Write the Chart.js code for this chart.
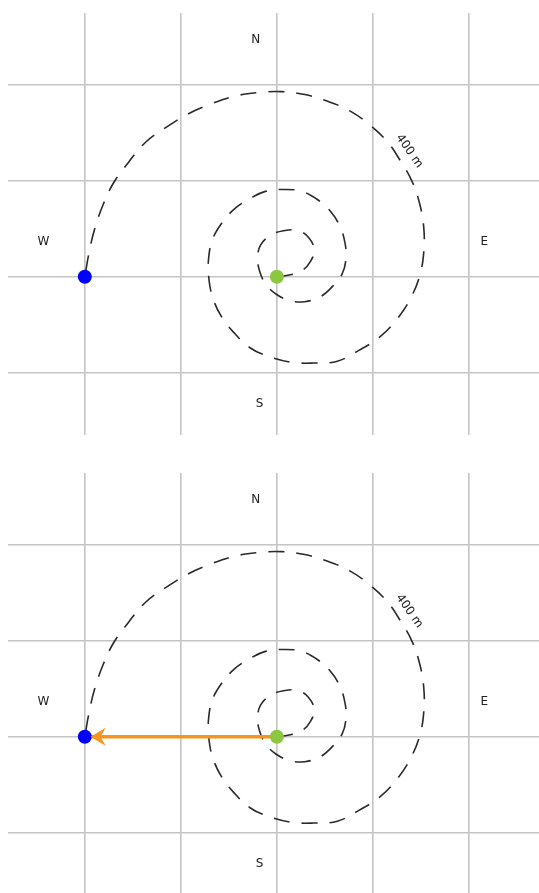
<!DOCTYPE html>
<html>
<head>
<meta charset="utf-8">
<script src="https://cdn.jsdelivr.net/npm/chart.js@4"></script>
<style>
  html, body { margin: 0; padding: 0; background: #fff; overflow: hidden; }
  .panel { position: absolute; left: 0; width: 539px; height: 460px; }
</style>
</head>
<body>
<div class="panel" style="top:0"><canvas id="walkChart" width="539" height="460"></canvas></div>
<div class="panel" style="top:460px"><canvas id="walkArrowChart" width="539" height="460"></canvas></div>
<script>
// walk path in metres, east (x) and north (y) of the start point
var spiralX = [0, 14, 27, 35, 39, 33, 22, 7, -7, -17, -20, -18, -12, -1, 14, 29, 45, 58, 68, 72,
  71, 66, 56, 43, 26, 7, -12, -29, -45, -58, -67, -71, -71, -67, -58, -45, -28, -9, 14, 38,
  63, 85, 107, 126, 140, 149, 153, 153, 149, 141, 128, 114, 96, 76, 53, 29, 5, -20, -45, -69,
  -92, -115, -137, -154, -170, -181, -190, -196, -200];
var spiralY = [0, 2, 7, 16, 28, 41, 48, 48, 43, 33, 20, 6, -7, -18, -25, -26, -21, -10, 3, 19,
  35, 52, 68, 80, 89, 91, 89, 81, 70, 55, 39, 20, 0, -21, -41, -58, -74, -83, -89, -90,
  -88, -77, -63, -43, -21, 2, 26, 51, 75, 99, 122, 142, 159, 173, 183, 190, 193, 192, 188, 180,
  170, 156, 140, 120, 98, 75, 49, 23, 0];

// start and end points
var startPoint = [0, 0];
var endPoint = [-200, 0];

// displacement arrow (second picture)
var arrowX = [0, -194];
var arrowY = [0, 0];

// compass labels and where they sit (metres)
var compassLabels = ['N', 'S', 'W', 'E'];
var compassX = [-22, -18, -243, 216];
var compassY = [247, -133, 36, 36];

// distance label along the path
var distanceText = '400 m';
var distanceAt = [138, 131];

var gridStep = 100;

function toPoints(xs, ys) {
    return xs.map(function (v, i) { return { x: v, y: ys[i] }; });
}

var overlay = {
    id: 'overlay',
    afterDatasetsDraw: function (chart, args, opts) {
        var ctx = chart.ctx;
        var xs = chart.scales.x, ys = chart.scales.y;
        ctx.save();
        ctx.fillStyle = '#222';
        ctx.font = '12px "DejaVu Sans", sans-serif';
        ctx.textAlign = 'center';
        ctx.textBaseline = 'middle';
        compassLabels.forEach(function (t, i) {
            ctx.fillText(t, xs.getPixelForValue(compassX[i]), ys.getPixelForValue(compassY[i]));
        });
        ctx.save();
        ctx.translate(xs.getPixelForValue(distanceAt[0]), ys.getPixelForValue(distanceAt[1]));
        ctx.rotate(55 * Math.PI / 180);
        ctx.fillText(distanceText, 0, 0);
        ctx.restore();

        if (opts.arrow) {
            var tx = xs.getPixelForValue(arrowX[1]);
            var ty = ys.getPixelForValue(arrowY[1]);
            ctx.fillStyle = '#f7941d';
            ctx.beginPath();
            ctx.moveTo(tx, ty);
            ctx.lineTo(tx + 15, ty - 9);
            ctx.lineTo(tx + 10, ty);
            ctx.lineTo(tx + 15, ty + 9);
            ctx.closePath();
            ctx.fill();
        }
        ctx.restore();
    }
};

function makeChart(id, withArrow) {
    var datasets = [{
        label: 'start',
        data: [{ x: startPoint[0], y: startPoint[1] }],
        pointRadius: 7,
        pointBackgroundColor: '#8dc63f',
        pointBorderWidth: 0,
        showLine: false,
        order: 0
    }, {
        label: 'end',
        data: [{ x: endPoint[0], y: endPoint[1] }],
        pointRadius: 7,
        pointBackgroundColor: '#0000ff',
        pointBorderWidth: 0,
        showLine: false,
        order: 0
    }, {
        label: 'path',
        data: toPoints(spiralX, spiralY),
        showLine: true,
        borderColor: '#2a2a2a',
        borderWidth: 1.6,
        borderDash: [16, 12],
        tension: 0.4,
        pointRadius: 0,
        order: 2
    }];
    if (withArrow) {
        datasets.push({
            label: 'displacement',
            data: toPoints(arrowX, arrowY),
            showLine: true,
            borderColor: '#f7941d',
            borderWidth: 3.5,
            pointRadius: 0,
            order: 1
        });
    }

    var axis = function (min, max) {
        return {
            type: 'linear',
            min: min,
            max: max,
            border: { display: false },
            grid: { color: '#c4c4c4', lineWidth: 1.6, drawTicks: false },
            ticks: { display: false, stepSize: gridStep, includeBounds: false }
        };
    };

    return new Chart(document.getElementById(id).getContext('2d'), {
        type: 'scatter',
        data: { datasets: datasets },
        options: {
            responsive: false,
            animation: false,
            layout: { autoPadding: false, padding: { left: 8, top: 13, right: 0, bottom: 25 } },
            plugins: {
                legend: { display: false },
                tooltip: { enabled: false },
                overlay: { arrow: withArrow }
            },
            scales: {
                x: axis(-280, 273),
                y: axis(-165, 275)
            }
        },
        plugins: [overlay]
    });
}

makeChart('walkChart', false);
makeChart('walkArrowChart', true);
</script>
</body>
</html>
